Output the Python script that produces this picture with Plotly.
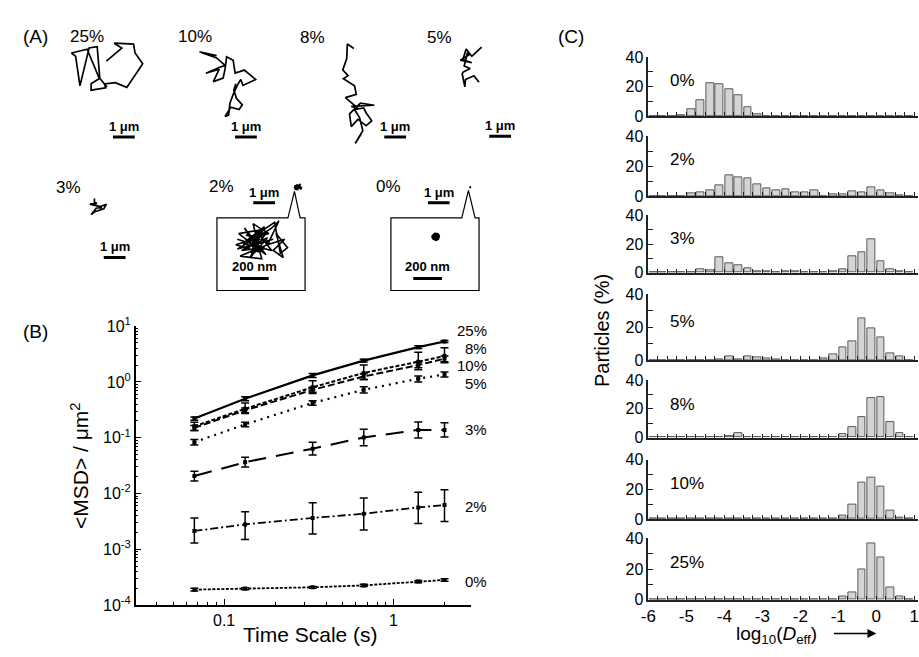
import plotly.graph_objects as go

W, H = 919, 657
FONT = "Liberation Sans, Arial, Helvetica, sans-serif"

# ================= Panel (A): trajectories (μm, relative to first point) =================
traj_25_x = [0, 0.71, 0.36, 1.25, 1.32, 1.67, 0.94, 0.41, -0.09, -0.03, -0.70, -0.70, -0.30, -0.42, -0.79, -1.21, -1.41, -1.60, -0.88, -0.35, 0.03]
traj_25_y = [0, 0.61, 0.84, 0.80, 0.38, -0.12, -1.23, -1.01, -1.07, -1.25, -1.36, -1.06, -0.80, 0.68, 0.62, -1.16, 0.23, 0.38, 0.56, -0.75, -1.21]
traj_10_x = [0, 0.79, 0.08, 0.79, 1.18, 0.91, 0.30, 0.91, 0.64, 1.09, 1.18, 1.25, 1.55, 1.64, 2.06, 2.58, 2.00, 1.90, 1.75, 1.55, 1.40, 1.34, 1.18, 1.44, 1.82, 1.97, 1.70, 1.58, 1.67]
traj_10_y = [0, -0.18, -0.03, -0.29, -0.64, -0.74, -1.01, -0.82, -1.40, -1.24, -0.79, -0.24, -0.40, -1.00, -0.86, -1.30, -1.58, -1.30, -1.55, -2.00, -2.41, -2.97, -3.03, -2.60, -2.71, -2.49, -2.18, -1.80, -1.50]
traj_8_x = [0, -0.30, -0.33, -0.51, -0.27, -0.48, 0.03, 0.11, -0.39, 0.18, -0.12, 0.94, 0.30, -0.20, -0.12, 0.18, 0.56, 0.82, 0.56, 0.45, 0.03, 0.26, 0.41, 0.18, 0.06, 0.34]
traj_8_y = [0, 0.21, -0.48, -1.00, -1.27, -1.42, -1.75, -2.15, -2.30, -2.79, -2.71, -2.66, -2.56, -3.06, -3.66, -3.32, -3.62, -3.39, -3.01, -2.79, -2.86, -3.24, -3.85, -4.23, -4.45, -4.00]
traj_5_x = [0, -0.45, -0.71, -0.86, -0.45, -0.98, -0.56, -0.65, -0.80, -0.53, -0.86, -0.89, -0.77, -0.74, -0.35, -0.12]
traj_5_y = [0, -0.43, -0.09, -0.58, -0.73, -0.61, -0.35, -0.25, -0.88, -1.00, -1.18, -1.26, -1.86, -1.52, -1.34, -1.64]
traj_3_x = [0, 0.00, 0.12, -0.21, 0.27, 0.55, 0.43, 0.05, -0.15, 0.09, 0.35]
traj_3_y = [0, -0.20, -0.23, -0.27, -0.38, -0.27, -0.49, -0.61, -0.76, -0.45, -0.43]
# confined trajectories in nm
traj_2_x_nm = [-150, 40, -120, 60, -60, 30, -140, 50, -100, 0, -160, 70, -40, 20, -130, 80, -90, 10, -70, 40, -110, 90, -20, -50, 60, -150, 100, -30, 30, -80,
               110, 150, 200, 120, 170, 100, 180, 60, 140, 90, -10]
traj_2_y_nm = [20, -40, -60, 30, -110, 90, 60, -90, 100, -70, -20, 60, 130, -120, -100, -10, 50, 40, -40, 110, -10, -60, 80, -90, 80, -50, 20, -20, -60, 10,
               140, -80, -40, 60, -110, -60, 20, -20, 150, 100, 30]
traj_0_x_nm = [-22, -4, 18, 27, 20, 4, -16, -24, -22]
traj_0_y_nm = [8, 24, 20, 4, -18, -26, -18, -4, 8]

traj_labels = ["25%", "10%", "8%", "5%", "3%", "2%", "0%"]

# ================= Panel (B): MSD vs time =================
time_s = [0.0667, 0.133, 0.333, 0.667, 1.4, 2.0]
msd_25 = [0.22, 0.50, 1.31, 2.41, 4.2, 5.3]
msd_25_hi = [0.235, 0.54, 1.42, 2.55, 4.45, 5.5]
msd_25_lo = [0.205, 0.46, 1.20, 2.27, 3.95, 5.1]
msd_8 = [0.16, 0.33, 0.80, 1.45, 2.3, 2.9]
msd_8_hi = [0.19, 0.42, 1.05, 2.0, 3.4, 4.1]
msd_8_lo = [0.135, 0.27, 0.62, 1.1, 1.65, 2.2]
msd_10 = [0.15, 0.31, 0.72, 1.25, 2.0, 2.6]
msd_10_hi = [0.165, 0.34, 0.80, 1.40, 2.25, 2.9]
msd_10_lo = [0.135, 0.28, 0.65, 1.10, 1.80, 2.3]
msd_5 = [0.083, 0.173, 0.42, 0.72, 1.14, 1.36]
msd_5_hi = [0.093, 0.19, 0.46, 0.82, 1.28, 1.5]
msd_5_lo = [0.074, 0.157, 0.38, 0.63, 1.0, 1.22]
msd_3 = [0.0205, 0.0364, 0.0636, 0.101, 0.138, 0.138]
msd_3_hi = [0.025, 0.0444, 0.083, 0.141, 0.192, 0.185]
msd_3_lo = [0.0168, 0.0299, 0.0487, 0.072, 0.099, 0.103]
msd_2 = [0.00213, 0.00279, 0.00364, 0.00433, 0.00563, 0.0062]
msd_2_hi = [0.00364, 0.0047, 0.0068, 0.0083, 0.0105, 0.0117]
msd_2_lo = [0.0013, 0.0015, 0.00187, 0.00222, 0.0029, 0.00314]
msd_0 = [0.000189, 0.000197, 0.000208, 0.000225, 0.000264, 0.000282]
msd_0_hi = [0.0002, 0.000205, 0.000215, 0.000235, 0.000276, 0.000297]
msd_0_lo = [0.000178, 0.000189, 0.0002, 0.000215, 0.000252, 0.000267]

# ================= Panel (C): histograms of log10(Deff) =================
bin_edge_start, bin_width, n_bins = -6.0, 0.25, 28
hist_labels = ["0%", "2%", "3%", "5%", "8%", "10%", "25%"]
hist_0 = [0, 0, 0, 0.7, 4.6, 10.5, 22.4, 21.5, 18.2, 13.8, 5.9, 1.3, 0, 0, 0, 0, 0, 0, 0, 0, 0, 0, 0, 0, 0, 0, 0, 0]
hist_2 = [0, 0, 0, 0, 1.5, 2.4, 3.9, 7.0, 13.5, 12.2, 11.5, 8.0, 4.8, 3.5, 4.1, 2.4, 2.4, 3.5, 0, 1.2, 1.0, 3.0, 2.5, 5.6, 3.9, 2.0, 0.3, 0]
hist_3 = [0, 0, 0, 0, 0, 2.5, 1.8, 11.0, 6.7, 4.9, 2.9, 1.1, 1.1, 0, 0.9, 0.9, 0, 0, 0, 0.8, 2.5, 11.2, 14.6, 23.4, 7.9, 2.7, 1.1, 0]
hist_5 = [0, 0, 0, 0, 0, 0, 0, 0.4, 2.2, 0.5, 2.4, 1.6, 1.0, 0.3, 0, 0, 0, 0, 1.2, 3.3, 7.5, 11.6, 25.2, 19.1, 14.0, 4.1, 2.0, 0]
hist_8 = [0, 0, 0, 0, 0, 0.3, 0.5, 0.4, 0.8, 2.8, 0.6, 0, 0, 0, 0, 0, 0, 0.3, 0, 0, 2.5, 7.6, 14.3, 27.6, 27.9, 10.6, 2.8, 0]
hist_10 = [0, 0, 0, 0, 0, 0, 0, 0.3, 0.3, 0.6, 0.3, 0, 0, 0.3, 0, 0, 0, 0, 0, 0.3, 2.6, 9.6, 24.8, 27.8, 21.5, 5.7, 0.8, 0]
hist_25 = [0, 0, 0, 0, 0, 0, 0, 0, 0, 0, 0, 0, 0, 0, 0, 0, 0, 0, 0, 0, 2.1, 5.1, 20.0, 36.8, 27.4, 7.8, 1.9, 0]
hist_major_y = [0, 20, 40]
hist_minor_y = [10, 30]
x_labels = [-6, -5, -4, -3, -2, -1, 0, 1]

# ================= layout helpers (pixel positions) =================
def px(x):
    return x / W

def py(y):
    return 1 - y / H

UM_PX = 22.0      # pixels per μm in panel A
NM_PX = 0.145     # pixels per nm in the insets

fig = go.Figure()
annotations = []
shapes = []

def text(x, y, s, size=17, xanchor="center", yanchor="middle", angle=0):
    annotations.append(dict(x=px(x), y=py(y), xref="paper", yref="paper", text=s, showarrow=False,
                            xanchor=xanchor, yanchor=yanchor, textangle=angle,
                            font=dict(family=FONT, size=size, color="black")))

# ---------- Panel A ----------
A_W, A_H = 550, 300
traj_start_px = {"25%": (99.3, 51.7), "10%": (193.3, 42), "8%": (349.3, 38.7), "5%": (478.3, 37.3),
                 "3%": (87.3, 193.3), "2%": (292.3, 181.7), "0%": (466.7, 181.7)}
traj_um = {"25%": (traj_25_x, traj_25_y), "10%": (traj_10_x, traj_10_y), "8%": (traj_8_x, traj_8_y),
           "5%": (traj_5_x, traj_5_y), "3%": (traj_3_x, traj_3_y),
           "2%": ([v / 1000 for v in traj_2_x_nm], [v / 1000 for v in traj_2_y_nm]),
           "0%": ([v / 1000 for v in traj_0_x_nm], [v / 1000 for v in traj_0_y_nm])}
for lab in traj_labels:
    sx, sy = traj_start_px[lab]
    tx, ty = traj_um[lab]
    fig.add_trace(go.Scatter(x=[sx / UM_PX + v for v in tx], y=[-sy / UM_PX + v for v in ty],
                             mode="lines", line=dict(color="black", width=1.7 if lab not in ("2%", "0%") else 1.2),
                             fill="toself" if lab == "0%" else None, fillcolor="black",
                             xaxis="x9", yaxis="y9", showlegend=False, hoverinfo="skip"))

scalebar_px = {"25%": (106, 130), "10%": (229.3, 130), "8%": (380, 130), "5%": (486, 129.3),
               "3%": (96.7, 254.3), "2%": (247.7, 197.7), "0%": (424, 197.7)}
for lab, (bx, by) in scalebar_px.items():
    shapes.append(dict(type="line", xref="x9", yref="y9", x0=bx / UM_PX, x1=bx / UM_PX + 1,
                       y0=-by / UM_PX, y1=-by / UM_PX, line=dict(color="black", width=3)))
    annotations.append(dict(x=bx / UM_PX + 0.5, y=-(by - 11) / UM_PX, xref="x9", yref="y9",
                            text="<b>1 μm</b>", showarrow=False, xanchor="center", yanchor="middle",
                            font=dict(family=FONT, size=13, color="black")))

label_px = {"25%": (80, 26.7), "10%": (189, 26.7), "8%": (308, 27), "5%": (436, 27),
            "3%": (60.7, 181.7), "2%": (216, 180.7), "0%": (384.7, 180.7)}
for lab, (lx, ly) in label_px.items():
    text(lx, ly, lab, size=17)

text(27.5, 26.7, "(A)", size=19)
text(27.5, 331, "(B)", size=19)
text(569, 26, "(C)", size=19)

# insets (2% and 0%)
insets = [
    ("x10", "y10", (211, 213.3, 300, 288.3), (253.3, 238.3), (282.7, 295, 289.3, 186),
     traj_2_x_nm, traj_2_y_nm, (234.3, 276)),
    ("x11", "y11", (386.7, 213.3, 475.7, 288.3), (431.7, 232.7), (458.3, 471.7, 465, 185),
     traj_0_x_nm, traj_0_y_nm, (409.3, 276)),
]
for xa, ya, (bx0, by0, bx1, by1), (ox, oy), (pl, pr, apx, apy), tx, ty, (sbx, sby) in insets:
    fig.add_trace(go.Scatter(x=tx, y=ty, mode="lines", line=dict(color="black", width=1.6),
                             fill="toself" if xa == "x11" else None, fillcolor="black",
                             xaxis=xa, yaxis=ya, showlegend=False, hoverinfo="skip"))
    n = xa[1:]
    fig.layout["xaxis" + n] = dict(domain=[px(bx0), px(bx1)], range=[(bx0 - ox) / NM_PX, (bx1 - ox) / NM_PX],
                                   anchor="y" + n, visible=False)
    fig.layout["yaxis" + n] = dict(domain=[py(by1), py(by0)], range=[-(by1 - oy) / NM_PX, (oy - by0) / NM_PX],
                                   anchor="x" + n, visible=False)
    path = (f"M {px(pl)} {py(by0)} L {px(apx)} {py(apy)} L {px(pr)} {py(by0)} L {px(bx1)} {py(by0)} "
            f"L {px(bx1)} {py(by1)} L {px(bx0)} {py(by1)} L {px(bx0)} {py(by0)} Z")
    shapes.append(dict(type="path", xref="paper", yref="paper", path=path, line=dict(color="black", width=1.2)))
    x0nm = (sbx - ox) / NM_PX
    ynm = -(sby - oy) / NM_PX
    shapes.append(dict(type="line", xref=xa, yref=ya, x0=x0nm, x1=x0nm + 200, y0=ynm, y1=ynm,
                       line=dict(color="black", width=3)))
    annotations.append(dict(x=x0nm + 100, y=ynm + 12 / NM_PX, xref=xa, yref=ya, text="<b>200 nm</b>",
                            showarrow=False, font=dict(family=FONT, size=13, color="black")))

fig.layout["xaxis9"] = dict(domain=[0, px(A_W)], range=[0, A_W / UM_PX], anchor="y9", visible=False)
fig.layout["yaxis9"] = dict(domain=[py(A_H), 1], range=[-A_H / UM_PX, 0], anchor="x9", visible=False)

# ---------- Panel B ----------
msd_series = [
    ("25%", msd_25, msd_25_hi, msd_25_lo, "solid", 2.2),
    ("8%", msd_8, msd_8_hi, msd_8_lo, "4px,2px", 2.0),
    ("10%", msd_10, msd_10_hi, msd_10_lo, "7px,3px", 2.0),
    ("5%", msd_5, msd_5_hi, msd_5_lo, "2px,5px", 2.2),
    ("3%", msd_3, msd_3_hi, msd_3_lo, "18px,10px", 2.0),
    ("2%", msd_2, msd_2_hi, msd_2_lo, "8px,3px,2px,3px", 1.8),
    ("0%", msd_0, msd_0_hi, msd_0_lo, "3px,1.5px", 1.8),
]
for name, yv, hi, lo, dash, lw in msd_series:
    fig.add_trace(go.Scatter(
        x=time_s, y=yv, mode="lines+markers",
        line=dict(color="black", width=lw, dash=dash),
        marker=dict(symbol="square", size=4, color="black"),
        error_y=dict(type="data", symmetric=False,
                     array=[h - v for h, v in zip(hi, yv)],
                     arrayminus=[v - l for v, l in zip(yv, lo)],
                     color="black", thickness=1.5, width=4),
        xaxis="x", yaxis="y", showlegend=False, hoverinfo="skip"))

msd_label_px = {"25%": 330, "8%": 348, "10%": 366, "5%": 384, "3%": 432, "2%": 511, "0%": 588}
for lab, ly in msd_label_px.items():
    text(486, ly, lab, size=15, xanchor="right")

B_X0, B_X1, B_Y0, B_Y1 = 129, 468, 325, 612.7
minor_x = [m * 10 ** e for e in (-2, -1, 0) for m in range(2, 10)]
minor_y = [m * 10 ** e for e in range(-4, 1) for m in range(2, 10)]
fig.layout["xaxis"] = dict(
    type="log", domain=[px(B_X0), px(B_X1)], range=[-1.522, 0.46], anchor="y",
    showline=True, linecolor="black", linewidth=1.5, mirror=False, showgrid=False, zeroline=False,
    ticks="inside", ticklen=6, tickwidth=1.2, tickcolor="black",
    tickmode="array", tickvals=[0.1, 1], ticktext=["0.1", "1"],
    tickfont=dict(family=FONT, size=16, color="black"),
    minor=dict(tickmode="array", tickvals=minor_x, ticks="inside", ticklen=3, tickwidth=1, tickcolor="black", showgrid=False))
fig.layout["yaxis"] = dict(
    type="log", domain=[py(B_Y1), py(B_Y0)], range=[-4, 1], anchor="x",
    showline=True, linecolor="black", linewidth=1.5, mirror=False, showgrid=False, zeroline=False,
    ticks="inside", ticklen=6, tickwidth=1.2, tickcolor="black",
    tickmode="array", tickvals=[1e-4, 1e-3, 1e-2, 1e-1, 1e0, 1e1],
    ticktext=["10<sup>-4</sup>", "10<sup>-3</sup>", "10<sup>-2</sup>", "10<sup>-1</sup>", "10<sup>0</sup>", "10<sup>1</sup>"],
    tickfont=dict(family=FONT, size=16, color="black"),
    minor=dict(tickmode="array", tickvals=minor_y, ticks="inside", ticklen=3, tickwidth=1, tickcolor="black", showgrid=False))
text(305, 643, "Time Scale (s)", size=21)
text(72, 469, "&lt;MSD&gt; / μm<sup>2</sup>", size=21, angle=-90)

# ---------- Panel C ----------
bin_centers = [bin_edge_start + bin_width * (k + 0.5) for k in range(n_bins)]
bin_edges = [bin_edge_start + bin_width * k for k in range(n_bins + 1)]
minor_edges = [e for e in bin_edges if e not in x_labels]
hist_values = [hist_0, hist_2, hist_3, hist_5, hist_8, hist_10, hist_25]
panel_px = [(108.3, 47.7), (190.7, 129.3), (270, 210.7), (360, 292.3), (440, 380.7), (524, 462.7), (607.3, 544)]
label_y_px = [71.7, 153.3, 235, 320, 405.7, 487.3, 569.3]
C_X0 = 646.7
for i, (lab, vals) in enumerate(zip(hist_labels, hist_values)):
    n = str(2 + i)
    fig.add_trace(go.Bar(x=bin_centers, y=vals, width=0.2,
                         marker=dict(color="#d4d4d4", line=dict(color="#5a5a5a", width=1)),
                         xaxis="x" + n, yaxis="y" + n, showlegend=False, hoverinfo="skip"))
    y0p, y40p = panel_px[i]
    last = (i == len(hist_labels) - 1)
    fig.layout["xaxis" + n] = dict(
        domain=[px(C_X0), 1], range=[-6, 1.1], anchor="y" + n,
        showline=True, linecolor="#222", linewidth=1.5, showgrid=False, zeroline=False,
        ticks="inside", ticklen=4, tickwidth=1, tickcolor="#222",
        tickmode="array", tickvals=x_labels, ticktext=[str(v) for v in x_labels],
        showticklabels=last, ticklabeloverflow="allow",
        tickfont=dict(family=FONT, size=17, color="black"),
        minor=dict(tickmode="array", tickvals=minor_edges, ticks="inside", ticklen=4, tickwidth=1,
                   tickcolor="#222", showgrid=False))
    fig.layout["yaxis" + n] = dict(
        domain=[py(y0p), py(y40p)], range=[0, 40], anchor="x" + n,
        showline=True, linecolor="#222", linewidth=1.5, showgrid=False, zeroline=False,
        ticks="inside", ticklen=5, tickwidth=1, tickcolor="#222",
        tickmode="array", tickvals=hist_major_y, ticktext=[str(v) for v in hist_major_y],
        tickfont=dict(family=FONT, size=16, color="black"),
        minor=dict(tickmode="array", tickvals=hist_minor_y, ticks="inside", ticklen=5, tickwidth=1,
                   tickcolor="#222", showgrid=False))
    text(666.7, label_y_px[i], lab, size=17, xanchor="left")

text(600, 330, "Particles (%)", size=20, angle=-90)
text(776, 644, "log<sub>10</sub>(<i>D</i><sub>eff</sub>)", size=19)
annotations.append(dict(x=px(877), y=py(642), xref="paper", yref="paper", text="", showarrow=True,
                        ax=-44, ay=0, axref="pixel", ayref="pixel", arrowhead=2, arrowsize=1.2,
                        arrowwidth=1.5, arrowcolor="black"))

fig.update_layout(
    width=W, height=H, margin=dict(l=0, r=0, t=0, b=0),
    paper_bgcolor="white", plot_bgcolor="rgba(0,0,0,0)",
    font=dict(family=FONT, color="black"),
    annotations=annotations, shapes=shapes, bargap=0, showlegend=False)

fig.write_html("out.html", config={"displayModeBar": False},
               post_script="document.body.style.margin='0px';document.body.style.overflow='hidden';")
